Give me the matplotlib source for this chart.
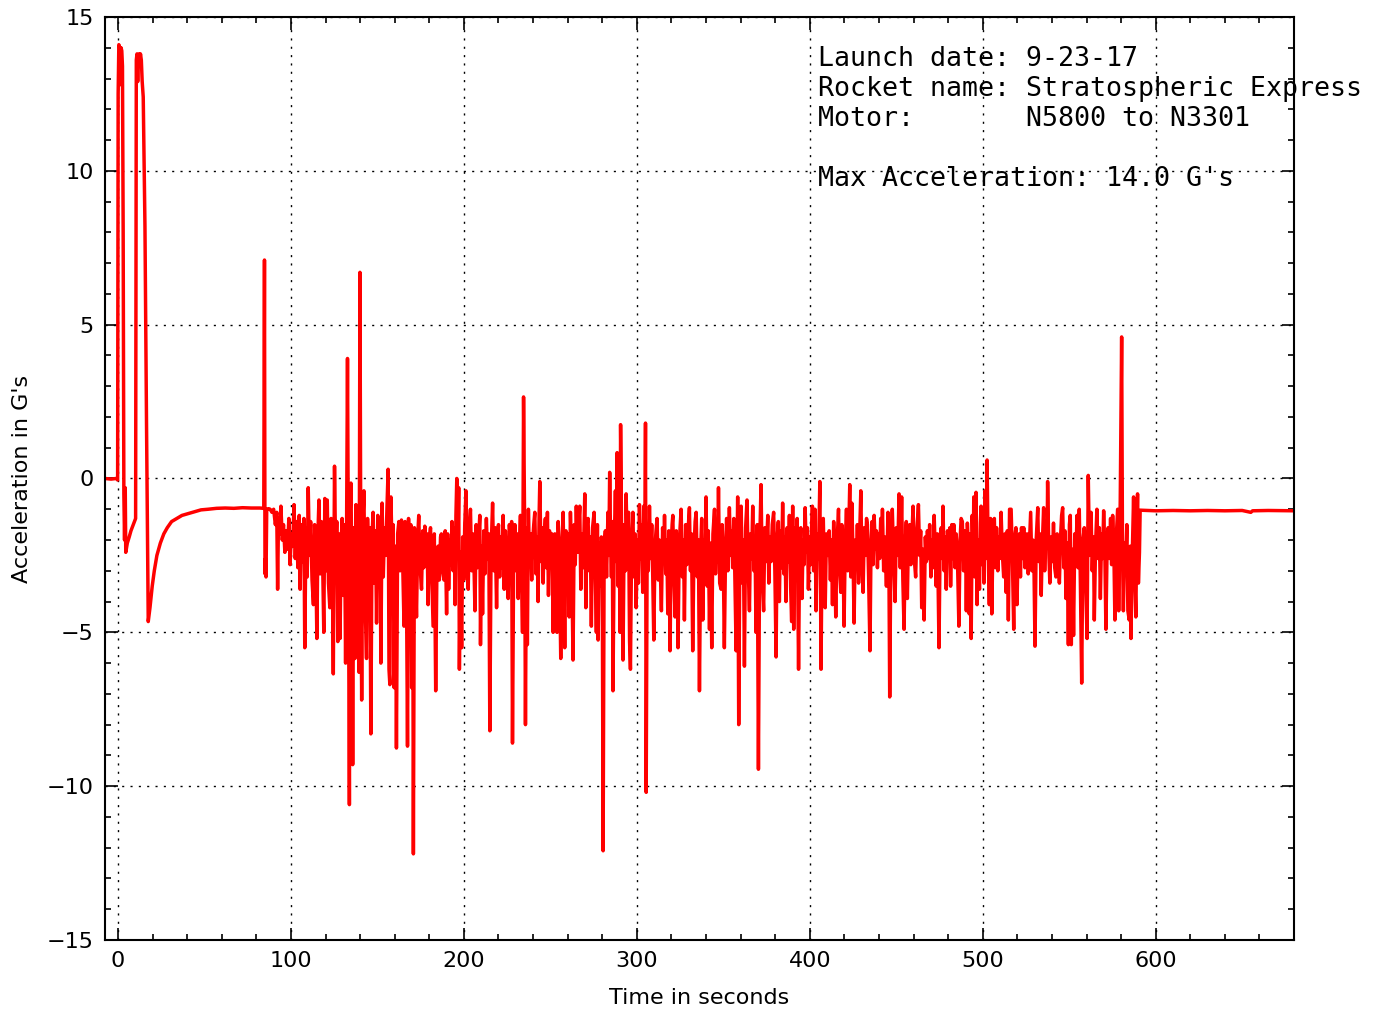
#!/usr/bin/env python3
"""
Flight accelerometer trace - Stratospheric Express, 9-23-17
"""
import numpy as np
import matplotlib
matplotlib.use('Agg')
import matplotlib.pyplot as plt
from matplotlib.ticker import MultipleLocator

# (time s, acceleration G)
pad_and_burn = [
    [-7.5, 0.0], [-4.0, -0.02], [-1.0, 0.0], [-0.2, -0.05], [0.1, 12.5], [0.5, 14.1],
    [1.0, 14.0], [1.4, 12.8], [1.8, 14.0], [2.2, 13.9], [2.6, 13.4], [3.0, 8.0],
    [3.4, -0.5], [3.8, -2.0], [4.2, -0.3], [4.5, -2.4], [4.8, -2.3], [5.4, -2.1],
    [6.5, -1.9], [7.5, -1.7], [8.5, -1.55], [9.5, -1.4], [10.2, -1.3], [10.6, 13.6],
    [11.0, 13.8], [11.4, 12.9], [11.8, 13.7], [12.2, 13.8], [12.6, 13.5], [13.0, 13.8],
    [13.5, 13.6], [14.0, 12.9], [14.6, 12.4], [15.6, 8.2], [16.5, 1.8], [17.5, -4.65],
    [18.5, -4.2], [19.8, -3.5], [21.0, -3.0], [22.5, -2.5], [24.5, -2.1], [26.5, -1.8],
    [28.5, -1.6], [31.0, -1.4], [34.0, -1.3], [37.0, -1.2], [40.0, -1.15], [44.0, -1.08],
    [48.0, -1.02], [52.0, -1.0], [57.0, -0.97], [62.0, -0.96], [67.0, -0.97], [72.0, -0.95],
    [77.0, -0.96], [82.0, -0.96], [84.3, -0.97], [84.7, 7.1], [85.0, -3.1], [85.3, -2.6],
    [85.6, -3.2], [86.0, -1.0], [87.0, -0.98],
]

noise_a = [
    [88.0, -1.0], [89.0, -1.1], [90.0, -1.0], [91.0, -1.5], [91.8, -1.1], [92.3, -3.6],
    [92.8, -1.3], [93.5, -1.8], [94.2, -0.9], [95.0, -2.0], [95.7, -1.5], [96.5, -2.4],
    [97.2, -1.7], [98.0, -2.3], [98.8, -1.3], [99.5, -2.8], [100.2, -1.8], [101.0, -2.2],
    [101.8, -0.85], [102.5, -2.6], [103.2, -1.4], [104.0, -2.9], [104.8, -1.2], [105.3, -3.6],
    [106.0, -1.5], [106.8, -2.7], [107.5, -1.3], [108.0, -5.5], [108.7, -1.6], [109.4, -3.2],
    [110.0, -0.3], [110.7, -2.5], [111.4, -1.4], [112.2, -3.3], [113.0, -4.1], [113.7, -1.5],
    [114.4, -2.8], [115.0, -5.2], [115.6, -1.8], [116.2, -0.7], [116.9, -3.1], [117.6, -1.4],
    [118.3, -2.6], [119.0, -5.0], [119.6, -0.65], [120.3, -3.0], [121.0, -0.7], [121.7, -3.4],
    [122.5, -4.2], [123.2, -1.3], [123.9, -2.7], [124.5, -6.35], [125.2, 0.4], [125.9, -2.8],
    [126.5, -1.4], [127.1, -5.3], [127.8, -1.8], [128.4, -5.2], [129.0, -2.2], [129.6, -1.3],
    [130.3, -3.8], [131.0, -1.5], [131.6, -6.0], [132.2, -1.4], [132.7, 3.9], [133.3, -3.5],
    [133.8, -10.6], [134.3, -1.0], [134.7, -0.15], [135.2, -3.0], [135.7, -9.3], [136.3, -1.6],
    [137.0, -5.85], [137.6, -0.85], [138.2, -3.6], [138.8, -1.5], [139.4, -6.3], [139.9, 6.7],
    [140.4, -2.5], [140.9, -7.2], [141.5, -1.6], [142.2, -0.4], [142.8, -3.8], [143.7, -5.85],
    [144.3, -1.3], [145.0, -2.9], [145.6, -1.6], [146.2, -8.3], [146.9, -1.9], [147.5, -1.1],
    [148.2, -3.4], [148.9, -1.7], [149.5, -4.7], [150.2, -1.2], [150.9, -2.8], [151.5, -1.4],
    [152.0, -6.0], [152.7, -0.8], [153.4, -3.2], [154.1, -1.6], [154.8, -2.5], [155.5, -1.0],
    [156.2, 0.3], [156.7, -6.2], [157.2, -6.7], [157.8, -0.6], [158.5, -2.4], [159.1, -1.5],
    [159.7, -6.8], [160.4, -2.2], [161.0, -8.76], [161.7, -1.8], [162.4, -1.4], [163.1, -3.0],
    [163.9, -1.35], [164.6, -2.7], [165.4, -4.8], [166.0, -1.4], [166.7, -2.5], [167.4, -8.7],
    [168.0, -1.3], [168.7, -2.9], [169.3, -1.5], [169.8, -6.8], [170.4, -2.0], [170.8, -12.2],
    [171.4, -1.6], [172.0, -3.0], [172.6, -4.5], [173.3, -1.9], [173.9, -1.2], [174.6, -2.8],
    [175.5, -3.6], [176.2, -1.7], [176.8, -2.9], [177.4, -1.55], [178.1, -2.4], [178.7, -1.8],
    [179.3, -4.1], [180.0, -2.0], [180.7, -1.6], [181.4, -3.1], [182.2, -4.8], [182.9, -1.8],
    [183.7, -6.9], [184.4, -2.9], [185.1, -2.2], [185.8, -3.3], [186.5, -1.9], [187.0, -1.8],
    [187.7, -3.0], [188.5, -3.3], [189.2, -1.7],
]

noise_b = [
    [190.0, -4.4], [190.6, -1.8], [191.2, -3.6], [191.9, -2.0], [192.5, -2.8], [193.1, -1.4],
    [193.8, -3.0], [194.5, -1.6], [194.9, -4.1], [195.4, -1.2], [195.9, 0.0], [196.5, -2.5],
    [197.0, -0.3], [197.4, -6.2], [198.0, -2.4], [198.7, -5.5], [199.3, -1.9], [199.9, -3.3],
    [200.5, -1.5], [201.2, -0.4], [201.8, -2.8], [202.5, -3.6], [203.1, -1.6], [203.8, -1.0],
    [204.5, -3.0], [205.2, -1.8], [205.8, -2.7], [206.4, -4.3], [207.1, -1.5], [207.8, -2.9],
    [208.5, -2.0], [209.2, -1.2], [209.6, -5.4], [210.2, -2.2], [210.8, -4.4], [211.5, -1.7],
    [212.2, -3.1], [213.0, -1.3], [213.7, -2.6], [214.4, -1.8], [215.0, -8.2], [215.7, -2.4],
    [216.6, -0.8], [217.3, -3.0], [218.1, -1.6], [218.9, -4.2], [219.5, -2.0], [220.0, -1.5],
    [220.7, -3.2], [221.4, -1.9], [222.0, -2.9], [222.7, -1.2], [223.3, -3.6], [224.0, -1.7],
    [224.8, -2.6], [225.6, -3.9], [226.3, -1.5], [227.0, -2.4], [227.6, -1.4], [228.1, -8.6],
    [228.8, -2.3], [229.5, -1.5], [230.2, -3.0], [230.8, -1.8], [231.4, -3.9], [232.0, -2.2],
    [232.7, -1.2], [233.4, -3.3], [233.9, -5.0], [234.5, 2.65], [235.1, -1.4], [235.6, -8.0],
    [236.2, -1.6], [236.7, -5.4], [237.3, -1.0], [238.0, -2.8], [238.6, -1.8], [239.2, -3.3],
    [239.8, -2.0], [240.4, -1.5], [241.0, -1.1], [241.7, -3.1], [242.3, -1.9], [242.9, -4.0],
    [243.5, -1.2], [243.9, -0.1], [244.6, -2.7], [245.2, -1.6], [245.8, -3.4], [246.4, -2.0],
    [247.1, -1.3], [247.7, -2.9], [248.3, -1.1], [248.9, -3.8], [249.5, -1.7], [250.2, -2.6],
    [250.9, -1.8], [251.6, -5.0], [252.2, -2.0], [252.6, -1.8], [253.2, -3.0], [253.9, -5.0],
    [254.5, -1.4], [255.2, -2.5], [256.0, -5.85], [256.7, -2.1], [257.4, -1.1], [258.3, -5.5],
    [259.0, -1.7], [259.6, -3.2], [260.3, -1.8], [260.9, -4.5], [261.6, -1.1], [262.3, -2.6],
    [263.1, -5.9], [263.8, -1.5], [264.4, -2.8], [265.0, -0.9], [265.7, -2.4], [266.3, -1.6],
    [267.0, -0.9], [267.6, -3.6], [268.3, -1.8], [269.0, -2.9], [269.9, -0.5], [270.5, -4.2],
    [271.2, -1.5], [271.8, -1.3], [272.5, -3.0], [273.1, -1.9], [273.7, -4.8], [274.4, -1.6],
    [275.3, -1.1], [276.0, -3.1], [276.6, -5.0], [277.2, -1.5], [277.6, -5.25], [278.3, -2.1],
    [278.9, -3.5], [279.5, -1.9], [280.0, -3.0], [280.5, -12.1], [281.1, -2.2], [281.8, -1.7],
    [282.5, -3.2], [283.3, -1.1], [283.8, -2.5], [284.3, 0.2], [284.8, -2.0], [285.3, -3.2],
    [285.8, -1.4], [286.2, -6.9], [286.9, -2.2], [287.6, -0.4], [288.2, -2.7], [288.6, 0.84],
    [289.2, -3.5], [289.7, -1.2],
]

noise_c = [
    [290.3, -5.0], [290.6, 1.75], [291.3, -2.6], [292.0, -5.9], [292.7, -1.5], [293.4, -3.0],
    [293.8, -0.5], [294.5, -2.4], [295.2, -1.1], [295.8, -5.3], [296.3, -6.2], [297.0, -2.0],
    [297.7, -1.1], [298.4, -3.2], [299.0, -1.8], [299.6, -4.2], [300.3, -2.0], [300.9, -3.4],
    [301.5, -0.85], [302.2, -2.6], [302.8, -1.5], [303.4, -3.7], [304.0, -0.9], [304.6, -2.9],
    [305.0, 1.8], [305.4, -10.2], [306.0, -1.6], [306.6, -3.0], [307.3, -0.9], [308.0, -2.6],
    [308.6, -1.5], [309.2, -3.2], [309.8, -5.25], [310.5, -2.2], [311.1, -1.7], [311.7, -1.3],
    [312.4, -3.3], [313.0, -2.0], [313.6, -3.0], [314.2, -4.3], [314.9, -1.6], [315.5, -2.7],
    [316.0, -1.2], [316.7, -3.1], [317.3, -2.0], [317.9, -4.4], [318.5, -1.7], [319.2, -5.6],
    [319.8, -2.3], [320.4, -1.5], [320.8, -1.2], [321.5, -3.3], [322.1, -4.5], [322.8, -1.7],
    [323.4, -2.9], [323.8, -5.5], [324.5, -2.2], [325.0, -1.6], [325.6, -1.0], [326.3, -3.2],
    [327.0, -2.0], [327.5, -4.6], [328.2, -1.5], [328.9, -2.8], [329.6, -1.7], [330.4, -0.95],
    [331.0, -3.0], [331.6, -1.8], [332.3, -5.6], [333.0, -2.4], [333.7, -1.4], [334.3, -1.1],
    [335.0, -3.2], [335.6, -2.0], [336.2, -6.9], [336.9, -2.3], [337.5, -1.3], [338.1, -4.6],
    [338.8, -2.0], [339.4, -2.9], [340.0, -0.6], [340.7, -3.5], [341.3, -1.7], [342.0, -4.9],
    [342.6, -2.1], [343.3, -5.5], [344.0, -1.8], [344.9, -1.0], [345.5, -3.1], [346.1, -1.9],
    [346.7, -2.7], [347.2, -0.3], [347.9, -3.4], [348.7, -3.6], [349.3, -1.5], [350.0, -2.8],
    [350.6, -5.5], [351.3, -2.3], [351.9, -1.3], [352.6, -3.0], [353.5, -0.95], [354.2, -2.5],
    [354.8, -1.7], [355.4, -2.9], [356.1, -1.3], [356.8, -3.6], [357.4, -5.6], [358.0, -2.0],
    [358.3, -0.6], [358.9, -8.0], [359.6, -1.8], [360.3, -0.9], [361.0, -3.4], [361.6, -2.0],
    [362.2, -6.1], [362.9, -1.6], [363.7, -0.7], [364.4, -2.9], [365.1, -4.3], [365.7, -1.8],
    [366.4, -2.6], [367.0, -0.9], [367.7, -3.0], [368.3, -1.9], [368.9, -5.0], [369.6, -1.5],
    [370.3, -9.45], [371.0, -2.2], [371.8, -0.2], [372.5, -3.2], [373.3, -4.3], [374.0, -1.6],
    [374.7, -2.7], [375.7, -1.2], [376.3, -3.4], [377.0, -1.9], [377.6, -2.7], [378.3, -1.5],
    [379.1, -1.1], [379.8, -3.0], [380.5, -5.8], [381.1, -2.0], [381.8, -1.4], [382.4, -4.0],
    [383.0, -1.7], [383.7, -2.9], [384.3, -0.8], [385.0, -3.1], [385.6, -1.9], [386.2, -4.0],
    [386.9, -1.6], [387.5, -2.7], [388.2, -1.2], [388.9, -3.5], [389.5, -4.65], [390.1, -0.9],
]

noise_d = [
    [390.7, -4.9], [391.4, -1.6], [392.0, -3.0], [392.7, -1.3], [393.5, -6.2], [394.1, -2.4],
    [394.8, -1.6], [395.5, -3.9], [396.1, -2.0], [396.7, -2.8], [397.3, -0.95], [398.0, -2.4],
    [398.6, -1.6], [399.2, -3.6], [399.9, -1.9], [400.5, -2.8], [401.1, -1.5], [401.5, -0.9],
    [402.2, -3.0], [403.0, -1.0], [403.6, -4.3], [404.3, -1.8], [405.0, -2.6], [405.8, -0.1],
    [406.5, -6.2], [407.1, -2.0], [407.8, -1.3], [408.4, -3.1], [408.9, -4.2], [409.6, -1.8],
    [410.3, -2.5], [411.2, -1.7], [411.9, -3.3], [412.5, -2.0], [413.1, -4.1], [413.8, -1.4],
    [414.4, -2.6], [415.0, -4.5], [415.7, -2.2], [416.6, -1.0], [417.2, -2.9], [417.9, -3.7],
    [418.5, -1.5], [419.2, -2.4], [419.8, -4.8], [420.5, -2.1], [421.2, -1.0], [421.9, -3.0],
    [422.5, -1.8], [423.1, -0.2], [423.7, -3.2], [424.3, -0.8], [425.0, -2.5], [425.6, -4.7],
    [426.3, -2.0], [426.9, -2.9], [427.5, -1.5], [428.2, -3.4], [428.8, -1.9], [429.5, -0.4],
    [430.1, -2.7], [430.8, -3.7], [431.5, -1.6], [432.2, -2.5], [432.8, -1.3], [433.3, -1.5],
    [434.0, -3.2], [434.8, -5.6], [435.4, -2.1], [436.0, -1.4], [436.6, -2.8], [437.2, -1.2],
    [437.9, -2.3], [438.5, -1.7], [439.1, -2.9], [439.8, -1.8], [440.4, -2.6], [441.0, -1.3],
    [441.6, -2.2], [442.0, -1.0], [442.7, -3.0], [443.4, -1.9], [444.3, -3.5], [445.2, -1.1],
    [445.7, -2.4], [446.2, -7.1], [446.9, -2.2], [447.7, -1.0], [448.5, -2.7], [449.3, -4.0],
    [450.0, -1.6], [450.8, -2.5], [451.6, -0.5], [452.3, -2.9], [453.1, -0.6], [453.8, -3.3],
    [454.5, -4.9], [455.2, -2.1], [455.8, -1.4], [456.4, -3.9], [457.0, -2.0], [457.7, -1.5],
    [458.4, -2.8], [459.0, -1.9], [459.7, -0.9], [460.4, -2.6], [461.2, -3.2], [461.9, -1.7],
    [462.8, -0.85], [463.5, -2.5], [464.1, -1.7], [464.7, -4.2], [465.4, -2.3], [466.1, -4.6],
    [466.8, -1.9], [467.4, -2.7], [468.0, -1.7], [468.7, -2.6], [469.3, -1.5], [470.0, -3.2],
    [470.6, -2.0], [471.2, -2.9], [471.9, -1.2], [472.5, -2.4], [473.1, -3.5], [473.8, -1.8],
    [474.7, -5.5], [475.3, -2.3], [476.0, -1.6], [476.6, -2.6], [477.0, -0.9], [477.7, -3.0],
    [478.3, -1.9], [478.9, -3.6], [479.6, -1.7], [480.3, -2.3], [481.0, -1.6], [481.4, -3.5],
    [482.1, -1.5], [482.7, -2.6], [483.3, -1.5], [484.0, -2.9], [484.6, -1.8], [485.3, -2.4],
    [486.2, -4.8], [486.9, -2.0], [487.5, -1.3], [488.2, -1.4], [488.9, -3.0], [489.5, -1.7],
    [490.2, -2.7],
]

noise_e = [
    [490.5, -4.3], [491.1, -1.45], [491.6, -2.1], [492.2, -4.4], [492.8, -1.8], [493.3, -5.2],
    [493.9, -1.2], [494.5, -2.8], [494.8, -0.6], [495.4, -3.2], [496.1, -0.45], [496.7, -4.1],
    [497.3, -2.0], [498.1, -3.6], [498.6, -1.45], [499.0, -0.9], [499.6, -2.8], [500.2, -1.5],
    [500.7, -3.4], [501.3, -0.4], [501.9, -2.6], [502.5, 0.6], [503.1, -2.3], [503.8, -4.1],
    [504.5, -1.3], [505.2, -4.4], [505.9, -2.0], [506.7, -1.3], [507.3, -2.9], [508.0, -1.6],
    [508.7, -3.0], [509.3, -1.9], [510.0, -2.6], [510.6, -1.1], [511.3, -2.4], [512.1, -3.2],
    [512.8, -1.8], [513.5, -3.7], [514.2, -1.7], [514.8, -4.6], [515.5, -1.0], [516.4, -1.0],
    [517.1, -2.5], [517.9, -4.9], [518.5, -1.9], [519.2, -1.6], [519.8, -4.1], [520.5, -2.1],
    [521.1, -1.8], [521.8, -3.2], [522.4, -1.6], [523.0, -2.6], [523.7, -1.6], [524.4, -2.9],
    [525.0, -1.9], [525.6, -1.8], [526.3, -3.1], [527.0, -2.1], [527.7, -1.1], [528.4, -3.0],
    [529.0, -2.0], [529.6, -2.8], [530.2, -5.45], [530.9, -2.0], [531.8, -0.95], [532.4, -2.7],
    [533.1, -1.8], [533.8, -3.8], [534.4, -2.2], [535.2, -0.95], [535.8, -3.0], [536.5, -1.7],
    [537.2, -2.2], [537.5, -0.1], [538.2, -2.4], [538.8, -3.4], [539.5, -1.9], [540.2, -2.7],
    [540.9, -1.45], [541.6, -2.9], [542.3, -3.2], [543.0, -1.8], [543.6, -2.4], [544.3, -3.4],
    [545.0, -1.9], [545.6, -1.2], [546.2, -0.95], [546.9, -2.9], [547.5, -1.7], [548.1, -3.9],
    [548.8, -2.1], [549.5, -5.4], [550.1, -1.5], [550.6, -1.2], [551.2, -5.4], [551.9, -2.3],
    [552.5, -5.1], [553.2, -1.8], [553.8, -2.7], [554.5, -1.2], [555.1, -2.9], [555.8, -1.0],
    [556.5, -3.6], [557.2, -6.65], [557.9, -2.0], [558.7, -1.6], [559.4, -3.1], [560.3, -5.2],
    [560.7, -2.2], [561.0, 0.1], [561.7, -2.5], [562.6, -1.1], [563.3, -3.0], [564.0, -1.9],
    [564.5, -4.6], [565.2, -2.2], [566.0, -1.0], [566.7, -2.6], [567.4, -1.6], [568.0, -3.9],
    [568.7, -1.8], [569.3, -2.6], [569.9, -1.05], [570.6, -2.4], [571.2, -4.9], [571.9, -2.2],
    [572.5, -1.6], [573.2, -2.6], [573.9, -1.3], [574.5, -2.8], [575.1, -1.2], [575.8, -2.3],
    [576.4, -4.6], [577.1, -2.0], [578.0, -1.0], [578.6, -4.3], [579.2, -1.9], [579.5, -0.7],
    [580.3, 4.6], [580.8, -2.5], [581.3, -4.3], [582.0, -2.1], [582.6, -2.9], [583.3, -1.5],
    [583.9, -4.3], [584.7, -4.6], [585.3, -2.2], [585.7, -5.2], [586.4, -2.6], [587.2, -0.6],
    [587.8, -2.9], [588.5, -4.5], [589.0, -2.0], [589.5, -0.5], [590.0, -3.4], [590.6, -2.4],
]

descent = [
    [591.0, -1.03], [600.0, -1.05], [610.0, -1.04], [620.0, -1.05], [630.0, -1.04],
    [640.0, -1.05], [650.0, -1.04], [655.0, -1.1], [656.0, -1.05], [665.0, -1.04],
    [680.0, -1.05],
]

launch_date = '9-23-17'
rocket_name = 'Stratospheric Express'
motor = 'N5800 to N3301'
max_accel = 14.0

flight = np.array(pad_and_burn + noise_a + noise_b + noise_c + noise_d + noise_e + descent)
time_s = flight[:, 0]
accel_g = flight[:, 1]

fig = plt.figure(figsize=(13.78, 10.10), dpi=100)
ax = fig.add_axes([0.0762, 0.0693, 0.8629, 0.9139])

ax.plot(time_s, accel_g, color='red', linewidth=2.5)

ax.set_xlim(-7.5, 680)
ax.set_ylim(-15, 15)
ax.xaxis.set_major_locator(MultipleLocator(100))
ax.xaxis.set_minor_locator(MultipleLocator(20))
ax.yaxis.set_major_locator(MultipleLocator(5))
ax.yaxis.set_minor_locator(MultipleLocator(1))
ax.tick_params(which='both', direction='in', top=True, right=True, labelsize=16, width=1.2)
ax.tick_params(which='major', length=9, pad=8)
ax.tick_params(which='minor', length=4.5)
for sp in ax.spines.values():
    sp.set_linewidth(1.5)

ax.grid(True, which='major', color='black', linestyle=(0, (1.5, 4.5)), linewidth=1.0)

ax.set_xlabel('Time in seconds', fontsize=16, labelpad=12)
ax.set_ylabel("Acceleration in G's", fontsize=16, labelpad=11)

info = ('Launch date: %s\n'
        'Rocket name: %s\n'
        'Motor:       %s\n'
        '\n'
        "Max Acceleration: %.1f G's" % (launch_date, rocket_name, motor, max_accel))
ax.text(405, 14.07, info, family='DejaVu Sans Mono', fontsize=19.2,
        va='top', ha='left', linespacing=1.21, clip_on=False)

plt.savefig('out.png', dpi=100)
plt.close()
